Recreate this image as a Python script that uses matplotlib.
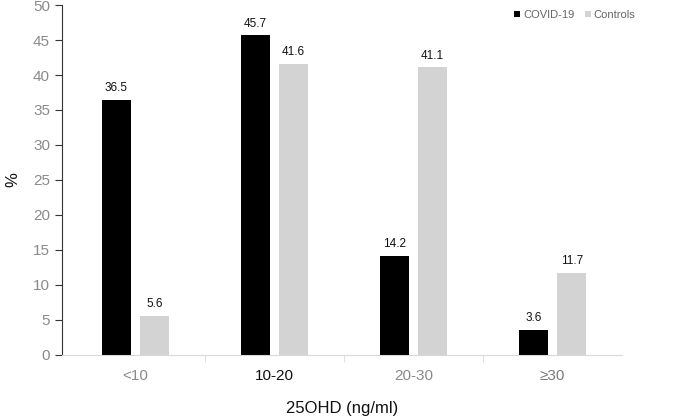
import numpy as np
import matplotlib
matplotlib.use("Agg")
import matplotlib.pyplot as plt
from matplotlib.ticker import FixedLocator

plt.rcParams['font.family'] = ['Liberation Sans', 'DejaVu Sans']

categories = ["<10", "10-20", "20-30", "\u226530"]
covid = [36.5, 45.7, 14.2, 3.6]
controls = [5.6, 41.6, 41.1, 11.7]
label_colors = ["#8a8a8a", "#111111", "#8a8a8a", "#7a7a7a"]

fig = plt.figure(figsize=(6.8, 4.2), dpi=100)
ax = fig.add_axes([0.091, 0.155, 0.824, 0.833])

x = np.arange(len(categories))
w = 0.21
off = 0.137
b1 = ax.bar(x - off, covid, w, color="black", label="COVID-19")
b2 = ax.bar(x + off, controls, w, color="#d3d3d3", label="Controls")

for bars in (b1, b2):
    for r in bars:
        ax.text(r.get_x() + r.get_width() / 2, r.get_height() + 0.8,
                "{:.1f}".format(r.get_height()), ha="center", va="bottom",
                fontsize=8.5, color="#111111")

ax.set_xlim(-0.53, 3.5)
ax.set_ylim(0, 50)
ax.set_yticks(range(0, 51, 5))
ax.set_xticks(x)
ax.set_xticklabels(categories)
for lbl, c in zip(ax.get_xticklabels(), label_colors):
    lbl.set_color(c)
ax.xaxis.set_minor_locator(FixedLocator([0.5, 1.5, 2.5]))
ax.tick_params(axis="x", which="major", length=0, pad=10, labelsize=11)
ax.tick_params(axis="x", which="minor", length=5, color="#d9d9d9", direction="out")
ax.tick_params(axis="y", length=5, color="#333333", labelcolor="#8a8a8a", labelsize=11, direction="out")

for s in ("top", "right"):
    ax.spines[s].set_visible(False)
ax.spines["left"].set_color("#333333")
ax.spines["bottom"].set_color("#d9d9d9")

ax.set_ylabel("%", fontsize=12, color="#111111", va="center")
ax.yaxis.set_label_coords(-0.088, 0.5)
ax.set_xlabel("25OHD (ng/ml)", fontsize=12, color="#111111", va="center")
ax.xaxis.set_label_coords(0.5, -0.152)

leg = ax.legend(loc="upper right", bbox_to_anchor=(1.035, 1.005), ncol=2, frameon=False,
                fontsize=8, handlelength=0.55, handleheight=0.55, handletextpad=0.25,
                columnspacing=0.9, borderaxespad=0.2)
for t in leg.get_texts():
    t.set_color("#666666")

fig.savefig("out.png", dpi=100)
